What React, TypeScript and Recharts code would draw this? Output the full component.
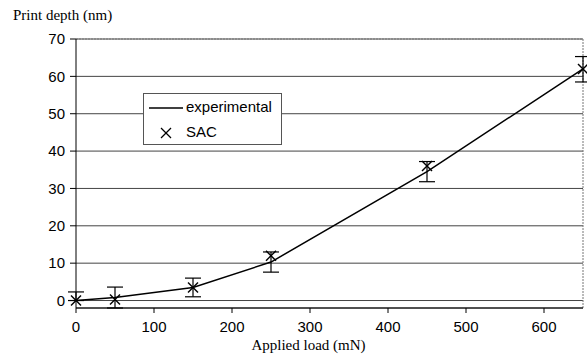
import {
  CartesianGrid,
  ComposedChart,
  ErrorBar,
  Line,
  ReferenceLine,
  Scatter,
  XAxis,
  YAxis,
} from 'recharts';

const loads = [0, 50, 150, 250, 450, 650];
const experimental = [0, 0.8, 3.5, 10.3, 34.5, 62];
const errors: [number, number][] = [
  [0, 2.3],
  [2.8, 2.8],
  [2.5, 2.5],
  [2.7, 2.7],
  [2.7, 2.7],
  [3.5, 3.3],
];
const sac = [0, 0.3, 3.5, 12, 36, 62];
const xTicks = [0, 100, 200, 300, 400, 500, 600];
const yTicks = [0, 10, 20, 30, 40, 50, 60, 70];

const data = loads.map((load, i) => ({
  load,
  experimental: experimental[i],
  err: errors[i],
  sac: sac[i],
}));

const tickFont = { fontFamily: '"Liberation Sans", Arial, sans-serif', fontSize: 15, fill: '#000' };

const Cross = (props: any) => {
  const { cx, cy } = props;
  if (cx == null || cy == null) return null;
  return (
    <g stroke="#000" strokeWidth={1.4}>
      <line x1={cx - 5} y1={cy - 5} x2={cx + 5} y2={cy + 5} />
      <line x1={cx - 5} y1={cy + 5} x2={cx + 5} y2={cy - 5} />
    </g>
  );
};

function LegendBox() {
  return (
    <div
      style={{
        position: 'absolute',
        left: 143,
        top: 93,
        width: 139,
        height: 52,
        border: '1px solid #555',
        background: '#fff',
        fontFamily: '"Liberation Sans", Arial, sans-serif',
        fontSize: 15,
        color: '#000',
        boxSizing: 'border-box',
      }}
    >
      <svg width={137} height={50} style={{ position: 'absolute', left: 0, top: 0 }}>
        <line x1={5} y1={14} x2={39} y2={14} stroke="#000" strokeWidth={1.5} />
        <line x1={17} y1={34} x2={27} y2={44} stroke="#000" strokeWidth={1.3} />
        <line x1={17} y1={44} x2={27} y2={34} stroke="#000" strokeWidth={1.3} />
      </svg>
      <span style={{ position: 'absolute', left: 42, top: 4 }}>experimental</span>
      <span style={{ position: 'absolute', left: 42, top: 29 }}>SAC</span>
    </div>
  );
}

export default function App() {
  return (
    <div style={{ position: 'absolute', left: 0, top: 0, width: 587, height: 356, background: '#fff' }}>
      <ComposedChart
        width={587}
        height={356}
        data={data}
        margin={{ top: 39, right: 4, bottom: 0, left: 0 }}
      >
        <CartesianGrid horizontal vertical={false} stroke="#444" />
        <XAxis
          dataKey="load"
          type="number"
          domain={[0, 650]}
          ticks={xTicks}
          interval={0}
          tick={tickFont}
          tickSize={5}
          tickMargin={8}
          axisLine={{ stroke: '#000' }}
          tickLine={{ stroke: '#000' }}
          height={48}
        />
        <YAxis
          type="number"
          domain={[0, 70]}
          ticks={yTicks}
          interval={0}
          tick={tickFont}
          tickSize={6}
          tickMargin={5}
          width={76}
          axisLine={{ stroke: '#000' }}
          tickLine={{ stroke: '#000' }}
        />
        <ReferenceLine y={70} stroke="#777" strokeDasharray="2 1" />
        <ReferenceLine x={650} stroke="#777" strokeDasharray="2 1" />
        <Line
          dataKey="experimental"
          type="linear"
          stroke="#000"
          strokeWidth={1.5}
          dot={false}
          isAnimationActive={false}
        >
          <ErrorBar dataKey="err" direction="y" width={8} stroke="#000" strokeWidth={1.2} />
        </Line>
        <Scatter dataKey="sac" shape={<Cross />} isAnimationActive={false} />
      </ComposedChart>
      <div
        style={{
          position: 'absolute',
          left: 13,
          top: 7,
          fontFamily: '"Liberation Serif", "Times New Roman", serif',
          fontSize: 15,
        }}
      >
        Print depth (nm)
      </div>
      <div
        style={{
          position: 'absolute',
          left: 0,
          width: 617,
          textAlign: 'center',
          top: 337,
          fontFamily: '"Liberation Serif", "Times New Roman", serif',
          fontSize: 15,
        }}
      >
        Applied load (mN)
      </div>
      <LegendBox />
    </div>
  );
}
